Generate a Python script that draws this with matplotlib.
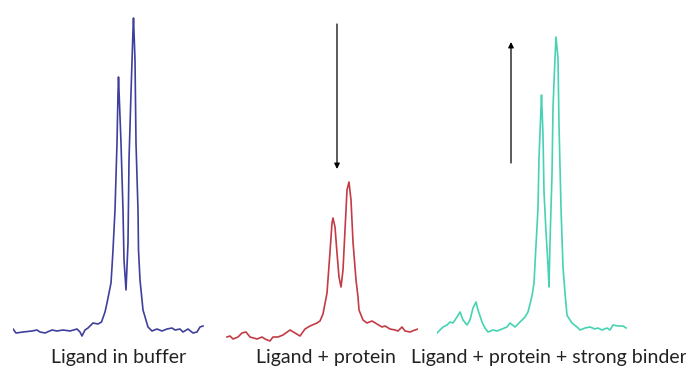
import matplotlib.pyplot as plt

# spectra: shift (points from left end) and intensity (baseline = 0)
buffer_x = [0, 3, 10, 19, 24, 27, 32, 39, 44, 50, 57, 64, 67, 69, 72, 75, 80, 85, 88.5, 92, 94,
            98, 99, 100, 102, 104, 105, 105.5, 108, 110, 111, 113, 115, 116, 118, 120, 120.5,
            122, 123, 125, 125.5, 127, 130, 135, 139, 144, 149, 154, 159, 162, 167, 170, 175,
            180, 184, 187, 190]
buffer_y = [3, -1, 0, 1, 2, 0, -1, 2, 1, 2, 1, 3, 0, -4, 2, 4, 9, 8, 10, 20, 29,
            49, 65, 82, 122, 189, 239, 255, 189, 122, 72, 42, 89, 172, 239, 302, 314,
            272, 189, 122, 82, 52, 22, 5, 1, 3, 1, 3, 4, 2, 3, 0, 3,
            -1, 0, 5, 6]

protein_x = [1, 4, 7, 12, 16, 20, 24, 31, 36, 39, 44, 47, 52, 57, 64, 69, 74, 79, 84, 91, 94,
             97, 101, 104, 106, 107, 109, 111, 113, 115, 117, 119, 121, 123, 125, 127, 130,
             132, 133, 137, 141, 146, 151, 156, 159, 164, 169, 172, 176, 179, 184, 189, 192]
protein_y = [-5, -4, -7, -5, -1, 0, -5, -7, -5, -7, -9, -5, -5, -3, 2, -1, -4, 3, 6, 9, 11,
             18, 39, 80, 109, 114, 105, 79, 55, 45, 62, 102, 142, 150, 132, 90, 52,
             35, 22, 12, 9, 11, 8, 5, 6, 3, 2, 1, 5, 1, 0, 2, 3]

binder_x = [0, 3, 6, 10, 13, 16, 20, 23, 26, 30, 33, 36, 39, 41, 45, 48, 51, 56, 60, 65, 70,
            73, 78, 83, 88, 91, 95, 97, 98, 101, 102, 104, 104.5, 106, 107, 109, 111, 112,
            113, 115, 116, 118, 119, 121, 122, 124, 126, 128, 130, 131, 135, 140, 143, 148,
            153, 158, 161, 165, 170, 173, 176, 181, 186, 189]
binder_y = [-1, 2, 5, 7, 10, 9, 15, 20, 12, 7, 12, 24, 30, 22, 10, 4, 0, 2, 1, 3, 5,
            9, 5, 10, 15, 20, 36, 49, 68, 124, 174, 224, 237, 197, 140, 100, 67, 45,
            90, 157, 224, 274, 295, 274, 207, 124, 65, 39, 17, 15, 9, 5, 2, 4,
            5, 3, 4, 2, 4, 2, 7, 6, 6, 4]

labels = ['Ligand in buffer', 'Ligand + protein', 'Ligand + protein + strong binder']
colors = ['#3f3f9c', '#c23b45', '#45d3b3']

# arrows: (shift, start intensity, end intensity)
protein_arrow = (111, 308, 163)
binder_arrow = (74, 169, 290)

fig = plt.figure(figsize=(6.86, 3.70), dpi=100)

lefts = [13, 226, 437]
axes = []
for left, xs, ys, c in zip(lefts, [buffer_x, protein_x, binder_x],
                           [buffer_y, protein_y, binder_y], colors):
    ax = fig.add_axes([left / 686, 25 / 370, 192 / 686, 335 / 370])
    ax.plot(xs, ys, color=c, lw=1.2, solid_joinstyle='round')
    ax.set_xlim(0, 192)
    ax.set_ylim(-13, 322)
    ax.axis('off')
    axes.append(ax)

for ax, (x, y0, y1) in zip(axes[1:], [protein_arrow, binder_arrow]):
    ax.annotate('', xy=(x, y1), xytext=(x, y0),
                arrowprops=dict(arrowstyle='-|>', color='black', lw=0.9,
                                mutation_scale=8, shrinkA=0, shrinkB=0))

label_x = [119, 326, 549]
for x, t in zip(label_x, labels):
    fig.text(x / 686, 12 / 370, t, ha='center', va='center',
             fontsize=14, family='Lato', color='#222222')

fig.savefig('out.png', dpi=100)
